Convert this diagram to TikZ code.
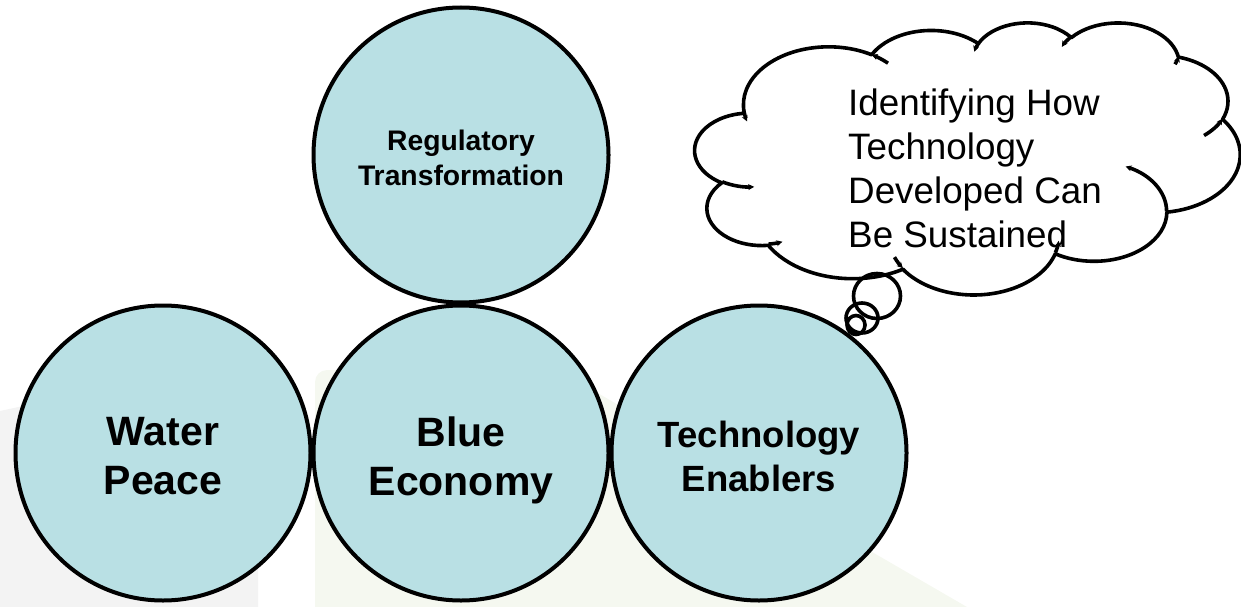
\documentclass[tikz,border=0pt]{standalone}
\usepackage{fontspec}
\setmainfont{Liberation Sans}
\usetikzlibrary{arrows.meta}
\definecolor{discfill}{RGB}{185,224,228}
\definecolor{wmgray}{RGB}{243,243,243}
\definecolor{wmgreen}{RGB}{245,248,240}
\newcommand\cldprep[5]{%
  \pgfmathsetmacro\cldtA{atan2((#2)*sin(#4),(#3)*cos(#4))}%
  \pgfmathsetmacro\cldtB{mod(atan2((#2)*sin((#4)+(#5)),(#3)*cos((#4)+(#5)))-\cldtA+720,360)}%
  \expandafter\xdef\csname cld#1\endcsname{arc[x radius=#2, y radius=#3, start angle=\cldtA, delta angle=\cldtB]}%
}
\tikzset{
  disc/.style={circle, draw=black, line width=4pt, fill=discfill, minimum size=295pt, inner sep=0pt},
  disclabel/.style={inner sep=0pt, align=center, text depth=0pt},
  cloudline/.style={draw=black, line width=3.6pt, line join=round},
  innerarc/.style={cloudline, {Stealth[length=6pt,width=6pt]}-},
}
\begin{document}
\begin{tikzpicture}[x=1pt,y=1pt,yscale=-1]
\useasboundingbox (0,0) rectangle (1241,607);
% faint background shapes
\fill[wmgray] (0,411) -- (258,355) -- (258,607) -- (0,607) -- cycle;
\fill[wmgreen] (315,607) -- (315,382) arc[start angle=180, end angle=270, radius=12] -- (558,370) -- (967,607) -- cycle;
% circles
\node[disc] (rt) at (461,155) {};
\node[disc] (wp) at (163,453) {};
\node[disc] (be) at (461,453) {};
\node[disc] (te) at (759,453) {};
\node[disclabel, font=\bfseries\fontsize{28.3}{35}\selectfont] (rtl) at ([yshift=3pt]rt.center) {Regulatory\\Transformation};
\node[disclabel, font=\bfseries\fontsize{41}{49}\selectfont] (wpl) at ([yshift=3pt]wp.center) {Water\\Peace};
\node[disclabel, font=\bfseries\fontsize{41}{49}\selectfont] (bel) at ([yshift=3pt]be.center) {Blue\\Economy};
\node[disclabel, font=\bfseries\fontsize{36.5}{44}\selectfont] (tel) at ([yshift=3pt]te.center) {Technology\\Enablers};
% cloud callout
\cldprep{A}{67.53}{91.90}{-190.48748}{123.78053}
\cldprep{B}{53.33}{72.67}{-144.10238}{89.94523}
\cldprep{C}{43.65}{59.45}{-145.80792}{99.72302}
\cldprep{D}{48.57}{65.95}{-130.98607}{117.24173}
\cldprep{E}{53.33}{72.73}{-78.70888}{109.02692}
\cldprep{F}{67.75}{92.20}{-46.26725}{130.269}
\cldprep{G}{57.85}{78.67}{0.62502}{114.03333}
\cldprep{H}{67.52}{92.15}{22.4516}{115.17255}
\cldprep{I}{77.20}{105.43}{66.24263}{75.71102}
\cldprep{J}{43.60}{59.18}{-274.94208}{146.73557}
\cldprep{K}{43.45}{59.45}{-246.8285}{152.51885}
\cldprep{a}{43.45}{59.45}{86.742}{26.4295}
\cldprep{b}{43.60}{59.18}{73.61047}{11.44747}
\cldprep{c}{67.52}{92.15}{137.62415}{14.0811}
\cldprep{d}{67.52}{92.15}{6.45327}{15.99835}
\cldprep{e}{57.85}{78.67}{-70.29235}{70.91737}
\cldprep{f}{53.33}{72.73}{30.31803}{27.7515}
\cldprep{g}{48.57}{65.95}{13.74433}{14.8589}
\cldprep{h}{48.57}{65.95}{-149.18145}{18.19537}
\cldprep{i}{43.65}{59.45}{-163.49427}{17.68635}
\cldprep{j}{67.53}{91.90}{-66.70695}{12.31935}
\cldprep{k}{67.53}{91.90}{157.65435}{11.85817}
\begin{scope}[shift={(695,22)}, xscale=545/432, yscale=272/432]
\draw[cloudline] (39.00,143.70) \cldA \cldB \cldC \cldD \cldE \cldF \cldG \cldH \cldI \cldJ \cldK -- cycle;
\draw[innerarc] (46.93,261.77) \clda;
\draw[innerarc] (69.28,348.99) \cldb;
\draw[innerarc] (164.78,390.90) \cldc;
\draw[innerarc] (288.27,347.51) \cldd;
\draw[innerarc] (341.29,229.54) \clde;
\draw[innerarc] (417.98,153.54) \cldf;
\draw[innerarc] (383.24,54.26) \cldg;
\draw[innerarc] (290.78,39.52) \cldh;
\draw[innerarc] (221.41,47.20) \cldi;
\draw[innerarc] (140.00,51.92) \cldj;
\draw[innerarc] (41.27,157.89) \cldk;
\end{scope}
\draw[cloudline] (877,296) ellipse [x radius=23.5, y radius=22.5];
\draw[cloudline] (862,318) ellipse [x radius=16, y radius=15];
\draw[cloudline] (856,325) ellipse [x radius=9, y radius=9.5];
\node[anchor=north west, inner sep=0pt, align=left, font=\fontsize{36.8}{44}\selectfont] (ct) at (848,89)
  {Identifying How\\Technology\\Developed Can\\Be Sustained};
\end{tikzpicture}
\end{document}
